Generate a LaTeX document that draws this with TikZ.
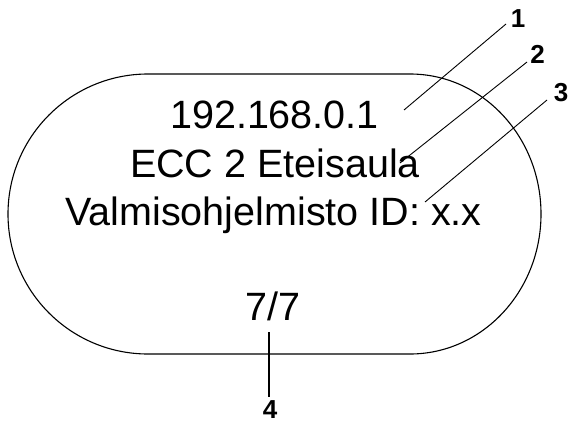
\documentclass[tikz,border=0pt]{standalone}
\usepackage{fontspec}
\setmainfont{Liberation Sans}
\newfontfamily\calloutfont{Liberation Sans Bold}
\begin{document}
\begin{tikzpicture}[x=1pt,y=-1pt,
  outline/.style={draw=black,line width=1.1pt},
  leader/.style={draw=black,line width=0.9pt},
  maintext/.style={font=\fontsize{39.5}{42}\selectfont,anchor=base,inner sep=0pt},
  callout/.style={font=\calloutfont\fontsize{26}{28}\selectfont,anchor=base,inner sep=0pt,text depth=0pt}]
\useasboundingbox (0,0) rectangle (569,423);
% stadium outline
\draw[outline] (148,74) -- (410,74)
  arc[start angle=-90,end angle=90,x radius=131,y radius=140]
  -- (148,354)
  arc[start angle=90,end angle=270,x radius=140,y radius=140] -- cycle;
% texts
\node[maintext] (ip) at (274.5,128.5) {192.168.0.1};
\node[maintext] (name) at (275,177) {ECC 2 Eteisaula};
\node[maintext] (fw) at (273.5,225) {Valmisohjelmisto ID: x.x};
\node[maintext] (cnt) at (273,320) {7/7};
% callout labels
\node[callout] (l1) at (518,27) {1};
\node[callout] (l2) at (537.5,63) {2};
\node[callout] (l3) at (561,101) {3};
\node[callout] (l4) at (270,418.5) {4};
% leader endpoints
\coordinate (p1) at (404,110);
\coordinate (q1) at (506,24);
\coordinate (p2) at (400,163);
\coordinate (q2) at (527,62);
\coordinate (p3) at (425,202);
\coordinate (q3) at (547,100);
\coordinate (p4) at (269,332);
\coordinate (q4) at (269,397);
\draw[leader] (p1) -- (q1);
\draw[leader] (p2) -- (q2);
\draw[leader] (p3) -- (q3);
\draw[leader,line width=1.4pt] (p4) -- (q4);
\end{tikzpicture}
\end{document}
